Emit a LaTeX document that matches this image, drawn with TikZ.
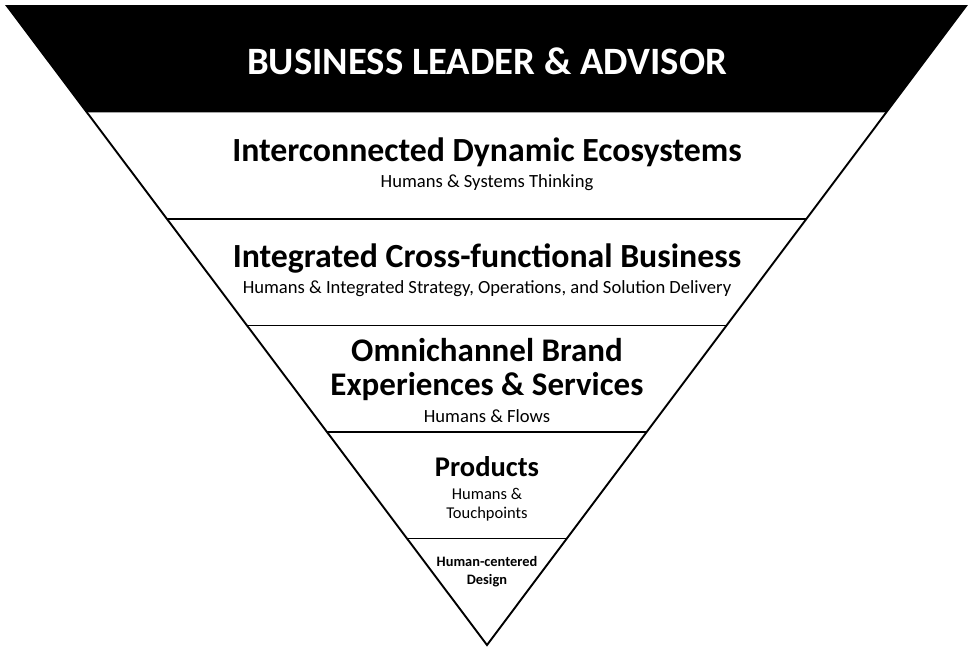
\documentclass[tikz,border=0pt]{standalone}
\usepackage{fontspec}
\setmainfont{Carlito}
\usetikzlibrary{calc}

\begin{document}
\begin{tikzpicture}[x=1pt, y=-1pt,
    edge/.style={draw=black, line width=1.9pt},
    ttl/.style={font=\bfseries\fontsize{33.8}{34}\selectfont, align=center, inner sep=0pt},
    sub/.style={font=\fontsize{18.6}{19}\selectfont, align=center, inner sep=0pt},
    tiny/.style={font=\bfseries\fontsize{14.4}{18}\selectfont, align=center, inner sep=0pt},
  ]
    \useasboundingbox (0,0) rectangle (974,654);
    \coordinate (tl) at (7,6);
    \coordinate (tr) at (966,6);
    \coordinate (apex) at (487,645);

    % top band
    \fill[black] (tl) -- (tr) -- ($(tr)!1/6!(apex)$) -- ($(tl)!1/6!(apex)$) -- cycle;
    % outline and dividers
    \draw[edge, line join=miter] (tl) -- (tr) -- (apex) -- cycle;
    \foreach \k in {2,...,5}
      \draw[edge] ($(tl)!\k/6!(apex)$) -- ($(tr)!\k/6!(apex)$);

    \node[ttl, text=white, font=\bfseries\fontsize{38.7}{40}\selectfont] (lead) at (487,61) {BUSINESS LEADER \& ADVISOR};

    \node[ttl] (eco) at (487,152) {Interconnected Dynamic Ecosystems};
    \node[sub] (ecosub) at (487,183) {Humans \& Systems Thinking};

    \node[ttl] (biz) at (487,258) {Integrated Cross-functional Business};
    \node[sub] (bizsub) at (487,289) {Humans \& Integrated Strategy, Operations, and Solution Delivery};

    \node[ttl, font=\bfseries\fontsize{33}{34}\selectfont] (omni) at (487,370) {Omnichannel Brand\\Experiences \& Services};
    \node[sub] (omnisub) at (487,416) {Humans \& Flows};

    \node[ttl, font=\bfseries\fontsize{28.5}{30}\selectfont] (prod) at (487,467) {Products};
    \node[sub, font=\fontsize{16.5}{19}\selectfont] (prodsub) at (487,505) {Humans \&\\Touchpoints};

    \node[tiny] (hcd) at (487,572) {Human-centered\\Design};
  \end{tikzpicture}
\end{document}
